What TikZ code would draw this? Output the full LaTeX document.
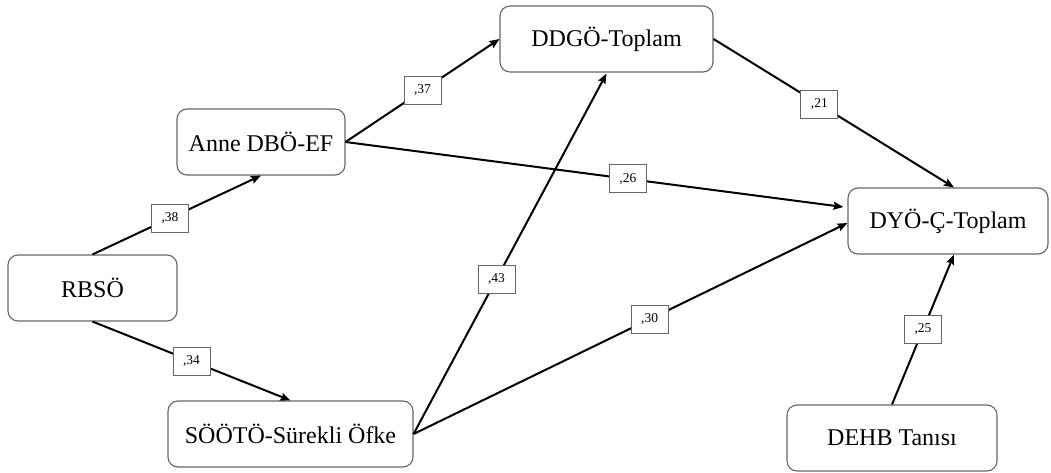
\documentclass[tikz,border=0pt]{standalone}
\usepackage{fontspec}
\setmainfont{Liberation Serif}
\usetikzlibrary{arrows.meta}
\begin{document}
\begin{tikzpicture}[x=1pt,y=-1pt,
  varbox/.style={draw=black!60, line width=1.1pt, rounded corners=10pt, fill=white,
    minimum height=66pt, inner sep=0pt, font=\fontsize{24}{26}\selectfont},
  coef/.style={draw=black!60, line width=0.9pt, fill=white, minimum width=37pt,
    minimum height=28pt, inner sep=0pt, font=\fontsize{13.5}{15}\selectfont},
  path/.style={line width=2pt, -{Stealth[length=10pt,width=8pt,inset=1.5pt]}}]
\useasboundingbox (0,0) rectangle (1051,473);

% variables
\node[varbox, minimum width=169pt] (rbso)  at (92.5,288) {RBSÖ};
\node[varbox, minimum width=168pt] (anne)  at (261,142)  {Anne DBÖ-EF};
\node[varbox, minimum width=213pt] (ddgo)  at (606.5,39) {DDGÖ-Toplam};
\node[varbox, minimum width=200pt] (dyo)   at (948,221)  {DYÖ-Ç-Toplam};
\node[varbox, minimum width=245pt] (sooto) at (290.5,434){SÖÖTÖ-Sürekli Öfke};
\node[varbox, minimum width=210pt] (dehb)  at (892,438)  {DEHB Tanısı};

% paths with standardized coefficients
\draw[path] (rbso.north) -- node[coef, pos=0.46] (c38) {,38} (anne.south);
\draw[path] (rbso.south) -- node[coef, pos=0.5] (c34) {,34} (sooto.north);
\draw[path] (anne.east) -- node[coef, pos=0.5] (c37) {,37} (ddgo.west);
\draw[path] (anne.east) -- node[coef, pos=0.567] (c26) {,26} ([xshift=-4pt,yshift=14pt]dyo.west);
\draw[path] (sooto.east) -- node[coef, pos=0.43] (c43) {,43} ([yshift=-1pt]ddgo.south);
\draw[path] (sooto.east) -- node[coef, pos=0.544] (c30) {,30} ([yshift=-2pt]dyo.west);
\draw[path] (ddgo.east) -- node[coef, pos=0.44] (c21) {,21} ([xshift=6pt]dyo.north);
\draw[path] (dehb.north) -- node[coef, pos=0.5] (c25) {,25} ([xshift=6pt]dyo.south);
\end{tikzpicture}
\end{document}
